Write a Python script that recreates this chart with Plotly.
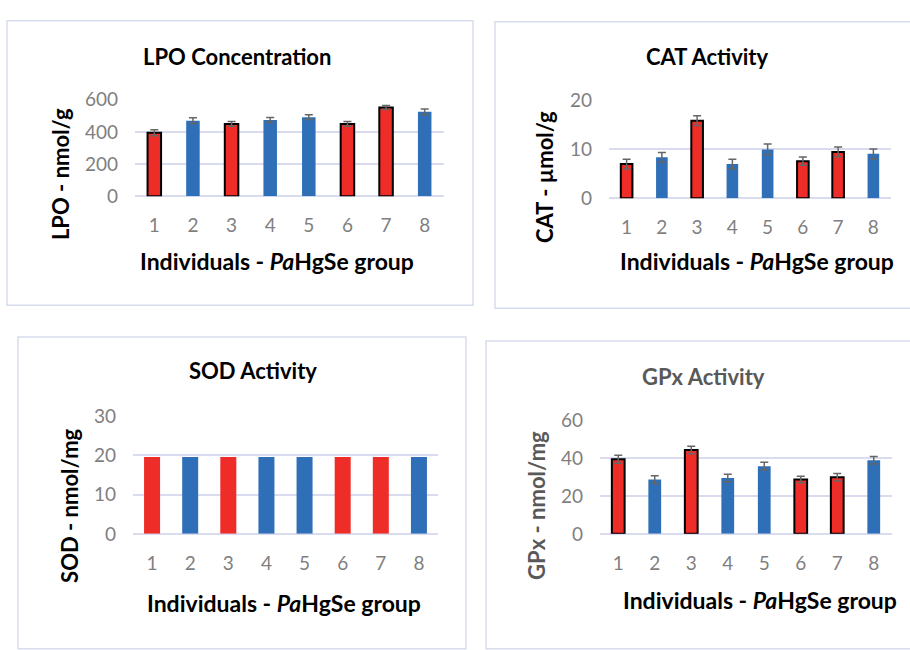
import plotly.graph_objects as go

W, H = 910, 650

individuals = [1, 2, 3, 4, 5, 6, 7, 8]
group = ["r", "b", "r", "b", "b", "r", "r", "b"]  # r = red outlined, b = blue

lpo_values = [395, 470, 450, 475, 492, 450, 552, 525]
lpo_errors = [18, 18, 15, 15, 15, 15, 12, 18]

cat_values = [7.0, 8.4, 15.9, 7.0, 10.0, 7.6, 9.5, 9.1]
cat_errors = [1.0, 1.0, 1.0, 1.0, 1.1, 0.85, 1.0, 1.0]

sod_values = [19.6, 19.6, 19.6, 19.6, 19.6, 19.6, 19.6, 19.6]

gpx_values = [39.3, 28.6, 44.2, 29.4, 35.7, 28.6, 29.8, 38.8]
gpx_errors = [2.1, 2.0, 2.0, 2.0, 2.0, 1.7, 2.0, 2.0]

RED = "#EE2C28"
BLUE = "#2E6FB7"
GRID = "#D9DCEF"
BORDER = "#D8DDEE"
TICK = "#7F7F7F"
GRAYTXT = "#595959"
FONT = "Lato"
TITLE_SIZE = 22
XTITLE_SIZE = 23
TICK_SIZE = 19


def px(x):
    return x / W


def py(y):
    return 1 - y / H


fig = go.Figure()

panels = [
    # name, values, errors, axis id, x domain px, y domain px, ymax, dtick, bar width
    ("LPO", lpo_values, lpo_errors, "", (135, 444), (91, 191), 600, 200, 0.35),
    ("CAT", cat_values, cat_errors, "2", (609, 891), (92, 193), 20, 10, 0.33),
    ("SOD", sod_values, None, "3", (133, 438), (419, 541), 30, 10, 0.42),
    ("GPx", gpx_values, gpx_errors, "4", (600, 892), (423, 541), 60, 20, 0.35),
]

colors = [RED if g == "r" else BLUE for g in group]

for name, vals, errs, ax, xd, yd, ymax, dt, bw in panels:
    outline = name != "SOD"
    lw = [2 if (g == "r" and outline) else 0 for g in group]
    tr = dict(
        x=individuals, y=vals, width=bw,
        marker=dict(color=colors, line=dict(color="#000000", width=lw)),
        xaxis="x" + ax, yaxis="y" + ax, showlegend=False,
    )
    if errs is not None:
        tr["error_y"] = dict(type="data", array=errs, visible=True,
                             color="#666666", thickness=1.5, width=4)
    fig.add_trace(go.Bar(**tr))
    fig.update_layout(**{
        "xaxis" + ax: dict(
            domain=[px(xd[0]), px(xd[1])], anchor="y" + ax,
            range=[0.5, 8.5], tickvals=individuals, ticktext=[str(i) for i in individuals],
            showgrid=False, zeroline=False, showline=False, ticks="",
            tickfont=dict(family=FONT, size=TICK_SIZE, color=TICK),
            ticklabelstandoff=16, fixedrange=True,
        ),
        "yaxis" + ax: dict(
            domain=[py(yd[1]), py(yd[0])], anchor="x" + ax,
            range=[0, ymax], dtick=dt, tick0=0,
            showgrid=True, gridcolor=GRID, gridwidth=1.5,
            zeroline=True, zerolinecolor=GRID, zerolinewidth=1.5,
            showline=False, ticks="",
            tickfont=dict(family=FONT, size=TICK_SIZE, color=TICK),
            ticklabelstandoff=16, fixedrange=True,
        ),
    })

annotations = []


def ann(text, x, y, size=TITLE_SIZE, color="#000000", angle=0):
    annotations.append(dict(
        text=text, x=px(x), y=py(y), xref="paper", yref="paper",
        showarrow=False, textangle=angle, xanchor="center", yanchor="middle",
        font=dict(family=FONT, size=size, color=color),
    ))


xtitle = "<b>Individuals - <i>Pa</i>HgSe group</b>"

ann("<b>LPO Concentration</b>", 237, 46)
ann("<b>CAT Activity</b>", 707, 46)
ann("<b>SOD Activity</b>", 253, 372)
ann("<b>GPx Activity</b>", 703, 378, color=GRAYTXT)

ann("<b>LPO - nmol/g</b>", 60, 168, angle=-90)
ann("<b>CAT - µmol/g</b>", 545, 171, angle=-90)
ann("<b>SOD - nmol/mg</b>", 70, 512, angle=-90)
ann("<b>GPx - nmol/mg</b>", 537, 512, color=GRAYTXT, angle=-90)

ann(xtitle, 277, 258, size=XTITLE_SIZE)
ann(xtitle, 757, 258, size=XTITLE_SIZE)
ann(xtitle, 284, 613, size=XTITLE_SIZE)
ann(xtitle, 760, 610, size=XTITLE_SIZE)

shapes = []
for (x0, y0, x1, y1) in [(7, 9, 473, 304), (495, 10, 915, 307),
                         (18, 337, 466, 660), (486, 341, 915, 660)]:
    shapes.append(dict(type="rect", xref="paper", yref="paper",
                       x0=px(x0), x1=px(x1), y0=py(y1), y1=py(y0),
                       line=dict(color=BORDER, width=1.5), fillcolor="rgba(0,0,0,0)",
                       layer="below"))

fig.update_layout(
    width=W, height=H,
    margin=dict(l=0, r=0, t=0, b=0),
    paper_bgcolor="white", plot_bgcolor="white",
    annotations=annotations, shapes=shapes,
)

post = (
    "document.documentElement.style.margin='0';"
    "document.documentElement.style.overflow='hidden';"
    "document.body.style.margin='0';"
    "document.body.style.overflow='hidden';"
    "var d=document.querySelector('.plotly-graph-div');"
    "d.style.position='fixed';d.style.top='0px';d.style.left='0px';"
)

fig.write_html("out.html", config={"displayModeBar": False}, post_script=post)
